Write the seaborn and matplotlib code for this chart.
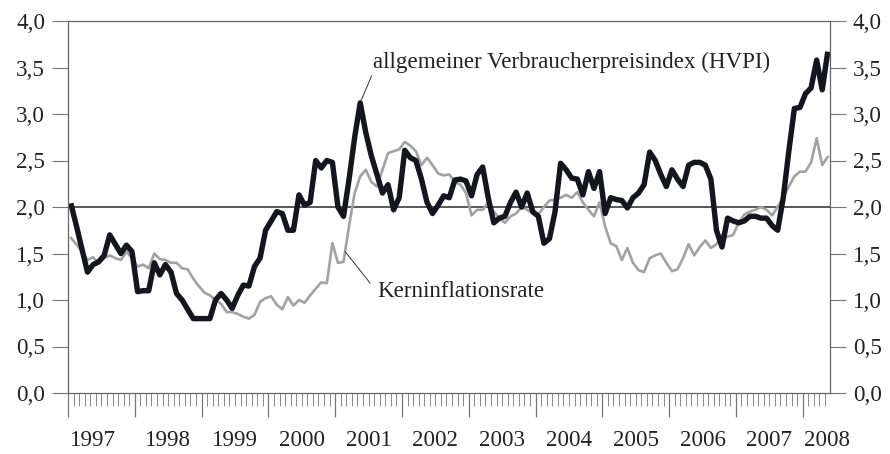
import numpy as np
import pandas as pd
import seaborn as sns
import matplotlib.pyplot as plt

# Monatswerte Jan 1997 - Mai 2008, Veraenderung ggue. Vorjahr in %
hvpi = (
    [2.04, 1.80, 1.55, 1.30, 1.38, 1.41, 1.48, 1.70, 1.60, 1.50, 1.59, 1.52]    # 1997
    + [1.09, 1.10, 1.10, 1.40, 1.27, 1.38, 1.30, 1.07, 1.00, 0.90, 0.80, 0.80]  # 1998
    + [0.80, 0.80, 1.00, 1.07, 1.00, 0.91, 1.05, 1.16, 1.15, 1.36, 1.45, 1.75]  # 1999
    + [1.85, 1.95, 1.93, 1.75, 1.75, 2.13, 2.02, 2.05, 2.50, 2.42, 2.50, 2.48]  # 2000
    + [2.00, 1.90, 2.30, 2.75, 3.12, 2.80, 2.55, 2.35, 2.15, 2.24, 1.97, 2.10]  # 2001
    + [2.61, 2.53, 2.50, 2.30, 2.05, 1.93, 2.02, 2.12, 2.10, 2.29, 2.30, 2.28]  # 2002
    + [2.12, 2.35, 2.43, 2.10, 1.83, 1.88, 1.90, 2.05, 2.16, 2.00, 2.15, 1.95]  # 2003
    + [1.90, 1.61, 1.66, 1.95, 2.47, 2.40, 2.31, 2.30, 2.13, 2.38, 2.20, 2.38]  # 2004
    + [1.93, 2.10, 2.08, 2.07, 1.99, 2.10, 2.15, 2.24, 2.59, 2.50, 2.35, 2.22]  # 2005
    + [2.40, 2.30, 2.22, 2.45, 2.48, 2.48, 2.45, 2.30, 1.75, 1.57, 1.88, 1.85]  # 2006
    + [1.83, 1.85, 1.90, 1.90, 1.88, 1.88, 1.80, 1.75, 2.10, 2.60, 3.06, 3.07]  # 2007
    + [3.22, 3.28, 3.58, 3.26, 3.67]                                            # 2008
)
kern = (
    [1.67, 1.60, 1.52, 1.43, 1.46, 1.40, 1.45, 1.48, 1.45, 1.43, 1.52, 1.45]    # 1997
    + [1.36, 1.38, 1.34, 1.50, 1.44, 1.43, 1.40, 1.40, 1.34, 1.33, 1.23, 1.15]  # 1998
    + [1.08, 1.05, 1.00, 0.96, 0.87, 0.87, 0.85, 0.82, 0.80, 0.84, 0.98, 1.02]  # 1999
    + [1.04, 0.95, 0.90, 1.03, 0.94, 1.00, 0.97, 1.05, 1.12, 1.19, 1.18, 1.61]  # 2000
    + [1.40, 1.41, 1.80, 2.15, 2.33, 2.40, 2.27, 2.22, 2.40, 2.58, 2.60, 2.62]  # 2001
    + [2.70, 2.66, 2.60, 2.45, 2.53, 2.45, 2.36, 2.34, 2.35, 2.27, 2.24, 2.15]  # 2002
    + [1.91, 1.97, 1.97, 2.05, 1.95, 1.88, 1.83, 1.90, 1.93, 2.00, 1.97, 1.93]  # 2003
    + [1.92, 2.00, 2.07, 2.08, 2.10, 2.13, 2.10, 2.16, 2.05, 1.97, 1.90, 2.05]  # 2004
    + [1.79, 1.61, 1.58, 1.43, 1.56, 1.40, 1.32, 1.30, 1.45, 1.48, 1.50, 1.40]  # 2005
    + [1.31, 1.33, 1.45, 1.60, 1.48, 1.57, 1.64, 1.56, 1.60, 1.70, 1.68, 1.70]  # 2006
    + [1.83, 1.92, 1.95, 1.97, 2.00, 1.97, 1.91, 2.00, 2.10, 2.22, 2.33, 2.38]  # 2007
    + [2.38, 2.48, 2.74, 2.45, 2.54]                                            # 2008
)
jahre = ['1997', '1998', '1999', '2000', '2001', '2002', '2003', '2004',
         '2005', '2006', '2007', '2008']
y_labels = ['0,0', '0,5', '1,0', '1,5', '2,0', '2,5', '3,0', '3,5', '4,0']

df = pd.DataFrame({'monat': np.arange(len(hvpi)), 'hvpi': hvpi, 'kern': kern})

sns.set_style('ticks')
plt.rcParams['font.family'] = ['Liberation Serif', 'DejaVu Serif']
fs = 16.6

fig = plt.figure(figsize=(8.9, 4.54), dpi=100)
ax = fig.add_axes([68 / 890, 61 / 454, 762 / 890, 372 / 454])

ax.axhline(2.0, color='#4a4a4a', lw=1.3, zorder=1)
sns.lineplot(data=df, x='monat', y='kern', color='#a2a2a2', lw=1.9, ax=ax,
             solid_joinstyle='round')
sns.lineplot(data=df, x='monat', y='hvpi', color='#15151d', lw=3.9, ax=ax,
             solid_joinstyle='round', solid_capstyle='butt')

ax.set_xlim(-0.5, 136.4)
ax.set_ylim(0, 4)
ax.set_xlabel('')
ax.set_ylabel('')

for s in ax.spines.values():
    s.set_visible(True)
    s.set_color('#666666')
    s.set_linewidth(0.9)

# y-Achse links und rechts
ax.set_yticks(np.arange(0, 4.01, 0.5))
ax.set_yticklabels(y_labels)
ax.tick_params(axis='y', direction='out', length=11.5, width=0.8, color='#777777',
               labelsize=fs, pad=5, left=True, right=True,
               labelleft=True, labelright=True, labelcolor='#222222')

# x-Achse: Jahres- und Monatsstriche
ax.set_xticks(np.arange(-0.5, 137, 12))
ax.set_xticks(np.arange(-0.5, 136.5, 1), minor=True)
ax.tick_params(axis='x', which='major', direction='out', length=17, width=0.9,
               color='#777777', labelbottom=False)
ax.tick_params(axis='x', which='minor', direction='out', length=9.5, width=0.7,
               color='#888888')

pos = [4.0] + [12 * k + 5.5 for k in range(1, 11)] + [135.9]
for p, j in zip(pos, jahre):
    ax.text(p, -0.129, j, transform=ax.get_xaxis_transform(), ha='center',
            va='center', fontsize=fs, color='#222222')

ax.annotate('allgemeiner Verbraucherpreisindex (HVPI)', xy=(52.2, 3.15),
            xytext=(54.3, 3.56), ha='left', va='center', fontsize=fs,
            color='#222222',
            arrowprops=dict(arrowstyle='-', color='#333333', lw=0.7,
                            relpos=(0, 0), shrinkA=0, shrinkB=0))
ax.annotate('Kerninflationsrate', xy=(49.3, 1.52), xytext=(55.0, 1.09),
            ha='left', va='center', fontsize=fs, color='#222222',
            arrowprops=dict(arrowstyle='-', color='#333333', lw=0.7,
                            relpos=(0, 0.5), shrinkA=4, shrinkB=0))

fig.savefig('out.png', dpi=100)
